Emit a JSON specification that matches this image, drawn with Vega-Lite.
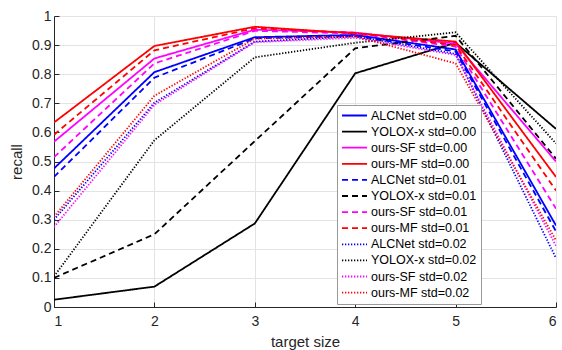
{
  "$schema": "https://vega.github.io/schema/vega-lite/v6.json",
  "width": 502,
  "height": 291,
  "autosize": {"type": "none"},
  "padding": {"left": 54, "top": 16, "right": 6, "bottom": 43},
  "background": "white",
  "config": {
    "font": "Liberation Sans",
    "view": {"stroke": null},
    "axis": {
      "labelFont": "Liberation Sans",
      "titleFont": "Liberation Sans",
      "labelFontSize": 14,
      "titleFontSize": 15,
      "titleFontWeight": "normal",
      "labelColor": "#262626",
      "titleColor": "#262626",
      "domainColor": "#262626",
      "tickColor": "#262626",
      "gridColor": "#e3e3e3",
      "gridWidth": 1
    },
    "legend": {
      "orient": "none",
      "legendX": 283,
      "legendY": 89,
      "title": null,
      "symbolType": "stroke",
      "symbolSize": 625,
      "symbolStrokeWidth": 1.8,
      "clipHeight": 13,
      "rowPadding": 3.1,
      "labelFont": "Liberation Sans",
      "labelFontSize": 12.5,
      "labelColor": "#000000",
      "labelOffset": 3,
      "padding": 4,
      "strokeColor": "#999999",
      "fillColor": "white",
      "labelLimit": 300
    }
  },
  "data": {
    "values": [
      {"series": "ALCNet std=0.00", "size": 1, "recall": 0.476},
      {"series": "ALCNet std=0.00", "size": 2, "recall": 0.807},
      {"series": "ALCNet std=0.00", "size": 3, "recall": 0.927},
      {"series": "ALCNet std=0.00", "size": 4, "recall": 0.935},
      {"series": "ALCNet std=0.00", "size": 5, "recall": 0.885},
      {"series": "ALCNet std=0.00", "size": 6, "recall": 0.28},
      {"series": "YOLOX-x std=0.00", "size": 1, "recall": 0.025},
      {"series": "YOLOX-x std=0.00", "size": 2, "recall": 0.07},
      {"series": "YOLOX-x std=0.00", "size": 3, "recall": 0.287},
      {"series": "YOLOX-x std=0.00", "size": 4, "recall": 0.803},
      {"series": "YOLOX-x std=0.00", "size": 5, "recall": 0.908},
      {"series": "YOLOX-x std=0.00", "size": 6, "recall": 0.612},
      {"series": "ours-SF std=0.00", "size": 1, "recall": 0.568},
      {"series": "ours-SF std=0.00", "size": 2, "recall": 0.854},
      {"series": "ours-SF std=0.00", "size": 3, "recall": 0.953},
      {"series": "ours-SF std=0.00", "size": 4, "recall": 0.943},
      {"series": "ours-SF std=0.00", "size": 5, "recall": 0.905},
      {"series": "ours-SF std=0.00", "size": 6, "recall": 0.5},
      {"series": "ours-MF std=0.00", "size": 1, "recall": 0.634},
      {"series": "ours-MF std=0.00", "size": 2, "recall": 0.897},
      {"series": "ours-MF std=0.00", "size": 3, "recall": 0.963},
      {"series": "ours-MF std=0.00", "size": 4, "recall": 0.94},
      {"series": "ours-MF std=0.00", "size": 5, "recall": 0.912},
      {"series": "ours-MF std=0.00", "size": 6, "recall": 0.447},
      {"series": "ALCNet std=0.01", "size": 1, "recall": 0.447},
      {"series": "ALCNet std=0.01", "size": 2, "recall": 0.788},
      {"series": "ALCNet std=0.01", "size": 3, "recall": 0.923},
      {"series": "ALCNet std=0.01", "size": 4, "recall": 0.932},
      {"series": "ALCNet std=0.01", "size": 5, "recall": 0.878},
      {"series": "ALCNet std=0.01", "size": 6, "recall": 0.26},
      {"series": "YOLOX-x std=0.01", "size": 1, "recall": 0.1},
      {"series": "YOLOX-x std=0.01", "size": 2, "recall": 0.25},
      {"series": "YOLOX-x std=0.01", "size": 3, "recall": 0.57},
      {"series": "YOLOX-x std=0.01", "size": 4, "recall": 0.889},
      {"series": "YOLOX-x std=0.01", "size": 5, "recall": 0.932},
      {"series": "YOLOX-x std=0.01", "size": 6, "recall": 0.51},
      {"series": "ours-SF std=0.01", "size": 1, "recall": 0.515},
      {"series": "ours-SF std=0.01", "size": 2, "recall": 0.837},
      {"series": "ours-SF std=0.01", "size": 3, "recall": 0.949},
      {"series": "ours-SF std=0.01", "size": 4, "recall": 0.94},
      {"series": "ours-SF std=0.01", "size": 5, "recall": 0.895},
      {"series": "ours-SF std=0.01", "size": 6, "recall": 0.338},
      {"series": "ours-MF std=0.01", "size": 1, "recall": 0.592},
      {"series": "ours-MF std=0.01", "size": 2, "recall": 0.882},
      {"series": "ours-MF std=0.01", "size": 3, "recall": 0.958},
      {"series": "ours-MF std=0.01", "size": 4, "recall": 0.942},
      {"series": "ours-MF std=0.01", "size": 5, "recall": 0.9},
      {"series": "ours-MF std=0.01", "size": 6, "recall": 0.4},
      {"series": "ALCNet std=0.02", "size": 1, "recall": 0.3},
      {"series": "ALCNet std=0.02", "size": 2, "recall": 0.702},
      {"series": "ALCNet std=0.02", "size": 3, "recall": 0.912},
      {"series": "ALCNet std=0.02", "size": 4, "recall": 0.93},
      {"series": "ALCNet std=0.02", "size": 5, "recall": 0.87},
      {"series": "ALCNet std=0.02", "size": 6, "recall": 0.168},
      {"series": "YOLOX-x std=0.02", "size": 1, "recall": 0.105},
      {"series": "YOLOX-x std=0.02", "size": 2, "recall": 0.573},
      {"series": "YOLOX-x std=0.02", "size": 3, "recall": 0.858},
      {"series": "YOLOX-x std=0.02", "size": 4, "recall": 0.908},
      {"series": "YOLOX-x std=0.02", "size": 5, "recall": 0.944},
      {"series": "YOLOX-x std=0.02", "size": 6, "recall": 0.562},
      {"series": "ours-SF std=0.02", "size": 1, "recall": 0.275},
      {"series": "ours-SF std=0.02", "size": 2, "recall": 0.695},
      {"series": "ours-SF std=0.02", "size": 3, "recall": 0.91},
      {"series": "ours-SF std=0.02", "size": 4, "recall": 0.925},
      {"series": "ours-SF std=0.02", "size": 5, "recall": 0.866},
      {"series": "ours-SF std=0.02", "size": 6, "recall": 0.21},
      {"series": "ours-MF std=0.02", "size": 1, "recall": 0.31},
      {"series": "ours-MF std=0.02", "size": 2, "recall": 0.726},
      {"series": "ours-MF std=0.02", "size": 3, "recall": 0.922},
      {"series": "ours-MF std=0.02", "size": 4, "recall": 0.93},
      {"series": "ours-MF std=0.02", "size": 5, "recall": 0.837},
      {"series": "ours-MF std=0.02", "size": 6, "recall": 0.229}
    ]
  },
  "mark": {"type": "line", "strokeWidth": 1.8, "clip": true},
  "encoding": {
    "x": {
      "field": "size",
      "type": "quantitative",
      "title": "target size",
      "scale": {"domain": [1, 6], "nice": false, "zero": false},
      "axis": {
        "values": [1, 2, 3, 4, 5, 6],
        "format": "d",
        "grid": true,
        "tickSize": -5,
        "labelPadding": 12,
        "titlePadding": 6
      }
    },
    "y": {
      "field": "recall",
      "type": "quantitative",
      "title": "recall",
      "scale": {"domain": [0, 1], "nice": false},
      "axis": {
        "values": [0, 0.1, 0.2, 0.3, 0.4, 0.5, 0.6, 0.7, 0.8, 0.9, 1],
        "format": "~g",
        "grid": true,
        "tickSize": -5,
        "labelPadding": 8,
        "titlePadding": 7
      }
    },
    "color": {
      "field": "series",
      "type": "nominal",
      "sort": null,
      "scale": {
        "domain": ["ALCNet std=0.00", "YOLOX-x std=0.00", "ours-SF std=0.00", "ours-MF std=0.00", "ALCNet std=0.01", "YOLOX-x std=0.01", "ours-SF std=0.01", "ours-MF std=0.01", "ALCNet std=0.02", "YOLOX-x std=0.02", "ours-SF std=0.02", "ours-MF std=0.02"],
        "range": ["#0000ff", "#000000", "#ff00ff", "#ff0000", "#0000ff", "#000000", "#ff00ff", "#ff0000", "#0000ff", "#000000", "#ff00ff", "#ff0000"]
      }
    },
    "strokeDash": {
      "field": "series",
      "type": "nominal",
      "sort": null,
      "scale": {
        "domain": ["ALCNet std=0.00", "YOLOX-x std=0.00", "ours-SF std=0.00", "ours-MF std=0.00", "ALCNet std=0.01", "YOLOX-x std=0.01", "ours-SF std=0.01", "ours-MF std=0.01", "ALCNet std=0.02", "YOLOX-x std=0.02", "ours-SF std=0.02", "ours-MF std=0.02"],
        "range": [[1, 0], [1, 0], [1, 0], [1, 0], [6, 4], [6, 4], [6, 4], [6, 4], [1.3, 1.7], [1.3, 1.7], [1.3, 1.7], [1.3, 1.7]]
      }
    }
  }
}
